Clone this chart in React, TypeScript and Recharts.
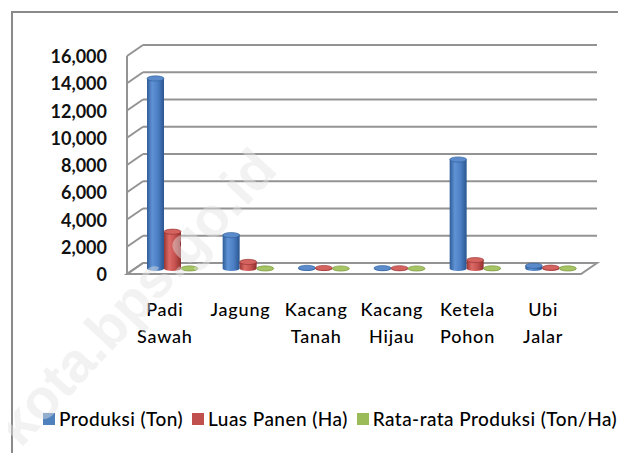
import React from 'react';
import { BarChart, Bar, XAxis, YAxis, ReferenceLine, ReferenceArea, Legend } from 'recharts';

const categories = ['Padi Sawah', 'Jagung', 'Kacang Tanah', 'Kacang Hijau', 'Ketela Pohon', 'Ubi Jalar'];
const categoryLines = [['Padi', 'Sawah'], ['Jagung'], ['Kacang', 'Tanah'], ['Kacang', 'Hijau'], ['Ketela', 'Pohon'], ['Ubi', 'Jalar']];
const produksi = [13950, 2450, 45, 25, 8000, 200];
const luasPanen = [2700, 480, 35, 20, 620, 60];
const rataRata = [5.2, 5.1, 1.3, 1.2, 12.9, 3.3];
const yTicks = [0, 2000, 4000, 6000, 8000, 10000, 12000, 14000, 16000];
const seriesNames = ['Produksi (Ton)', 'Luas Panen (Ha)', 'Rata-rata Produksi (Ton/Ha)'];
const seriesKeys = ['produksi', 'luas', 'rata'];

const data = categories.map((c, i) => ({
  name: c,
  produksi: produksi[i],
  luas: luasPanen[i],
  rata: rataRata[i],
}));

const DX = 8;
const DY = 5.5;
const GRID = '#939393';
const FONT = 'Lato, "Open Sans", sans-serif';

const palettes = [
  { id: 'b', base: '#4F81BD', stops: ['#2f5c97', '#5f93d6', '#4b7ec2', '#2b5690'], top: '#5b8bcb', edge: '#2c5a96' },
  { id: 'r', base: '#C0504D', stops: ['#9a3735', '#dd6a66', '#c5524f', '#8e2f2d'], top: '#d4625f', edge: '#8e2f2d' },
  { id: 'g', base: '#9BBB59', stops: ['#789a3c', '#b3d16f', '#9bbb59', '#6f8d36'], top: '#a6c463', edge: '#6f8d36' },
];

const makeCylinder = (p: any) => (props: any) => {
  const { x, y, width, height } = props;
  if (x == null || y == null) return <g />;
  const rx = width / 2;
  const ry = 2.6;
  const top = y;
  const base = y + Math.max(height, 0);
  return (
    <g>
      <path
        d={`M${x},${top} L${x},${base} A${rx},${ry} 0 0 0 ${x + width},${base} L${x + width},${top} Z`}
        fill={`url(#grad-${p.id})`}
      />
      <ellipse cx={x + rx} cy={top} rx={rx} ry={ry} fill={p.top} stroke={p.edge} strokeWidth={0.6} />
    </g>
  );
};

const GridLineShape = (props: any) => {
  const { x1, y1, x2 } = props;
  if (x1 == null) return <g />;
  const yb = y1 - DY;
  return (
    <g>
      <line x1={x1 - DX} y1={y1 + DY} x2={x1 + DX} y2={yb} stroke={GRID} strokeWidth={2} />
      <line x1={x1 + DX} y1={yb} x2={x2 + DX} y2={yb} stroke={GRID} strokeWidth={2} />
    </g>
  );
};

const WallsShape = (props: any) => {
  const { x, y, width, height } = props;
  if (x == null) return <g />;
  const base = y + height;
  const fl = x - DX;
  const fr = x + width - DX;
  const bl = x + DX;
  const br = x + width + DX;
  return (
    <g>
      <polygon
        points={`${fl},${base + DY} ${fr},${base + DY} ${br},${base - DY} ${bl},${base - DY}`}
        fill="#ffffff"
        stroke={GRID}
        strokeWidth={2}
      />
      <line x1={fl} y1={y + DY} x2={fl} y2={base + DY} stroke={GRID} strokeWidth={2} />
    </g>
  );
};

const YTick = (props: any) => {
  const { x, y, payload } = props;
  return (
    <text
      x={x - 28}
      y={y + DY}
      textAnchor="end"
      dominantBaseline="central"
      fontFamily={FONT}
      fontWeight={700}
      fontSize={18}
      fill="#111"
    >
      {Number(payload.value).toLocaleString('en-US')}
    </text>
  );
};

const XTick = (props: any) => {
  const { x, y, index } = props;
  const lines = categoryLines[index] || [];
  return (
    <g>
      {lines.map((l, i) => (
        <text
          key={i}
          x={x - DX}
          y={y + 47.5 + i * 27}
          textAnchor="middle"
          fontFamily={FONT}
          fontWeight={500}
          fontSize={18}
          letterSpacing={0.8}
          fill="#000"
        >
          {l}
        </text>
      ))}
    </g>
  );
};

const LegendContent = (props: any) => {
  const { payload } = props;
  const items = [...(payload || [])].sort(
    (a: any, b: any) => seriesNames.indexOf(a.value) - seriesNames.indexOf(b.value)
  );
  return (
    <div style={{ display: 'flex', alignItems: 'center', paddingLeft: 43, fontFamily: FONT, fontWeight: 500, fontSize: 19, letterSpacing: 0.45, color: '#000', lineHeight: '22px' }}>
      {items.map((e: any, i: number) => (
        <div key={i} style={{ display: 'flex', alignItems: 'center', marginRight: 9, flexShrink: 0 }}>
          <div style={{ width: 12, minWidth: 12, height: 12, background: e.color, marginRight: 4 }} />
          <span style={{ whiteSpace: 'nowrap' }}>{e.value}</span>
        </div>
      ))}
    </div>
  );
};

export default function App() {
  return (
    <div style={{ position: 'relative', width: 626, height: 461, margin: -8, overflow: 'hidden', background: '#fff' }}>
      <div
        style={{
          position: 'absolute',
          left: 11,
          top: 11,
          width: 700,
          height: 600,
          borderTop: '2px solid #8a8a8a',
          borderLeft: '2px solid #8a8a8a',
        }}
      />
      <div style={{ position: 'absolute', left: 0, top: 0 }}>
        <BarChart
          width={626}
          height={461}
          data={data}
          margin={{ top: 50.5, right: 37, bottom: 132.5, left: 0 }}
          barSize={17}
          barGap={0}
        >
          <defs>
            {palettes.map((p) => (
              <linearGradient key={p.id} id={`grad-${p.id}`} x1="0" y1="0" x2="1" y2="0">
                <stop offset="0%" stopColor={p.stops[0]} />
                <stop offset="30%" stopColor={p.stops[1]} />
                <stop offset="65%" stopColor={p.stops[2]} />
                <stop offset="100%" stopColor={p.stops[3]} />
              </linearGradient>
            ))}
          </defs>
          <XAxis dataKey="name" axisLine={false} tickLine={false} tickSize={0} tickMargin={0} height={60} tick={<XTick />} interval={0} />
          <YAxis
            width={135}
            domain={[0, 16000]}
            ticks={yTicks}
            axisLine={false}
            tickLine={false}
            tickSize={0}
            tickMargin={0}
            tick={<YTick />}
          />
          <ReferenceArea y1={0} y2={16000} shape={<WallsShape />} zIndex={-60} ifOverflow="visible" />
          {yTicks.map((t) => (
            <ReferenceLine key={t} y={t} shape={<GridLineShape />} zIndex={-50} ifOverflow="visible" />
          ))}
          {seriesKeys.map((k, i) => (
            <Bar
              key={k}
              dataKey={k}
              name={seriesNames[i]}
              fill={palettes[i].base}
              shape={makeCylinder(palettes[i])}
              isAnimationActive={false}
            />
          ))}
          <Legend
            layout="horizontal"
            verticalAlign="middle"
            align="center"
            itemSorter={null as any}
            wrapperStyle={{ top: 408, left: 0, width: 626 }}
            content={<LegendContent />}
          />
        </BarChart>
      </div>
      <svg width={626} height={461} style={{ position: 'absolute', left: 0, top: 0, pointerEvents: 'none' }}>
        <text
          x={150}
          y={310}
          textAnchor="middle"
          transform="rotate(-47 150 310)"
          fontFamily="'Liberation Sans', Arial, sans-serif"
          fontWeight={700}
          fontSize={56}
          fill="#e4e4e4"
          opacity={0.45}
        >
          kota.bps.go.id
        </text>
      </svg>
    </div>
  );
}
